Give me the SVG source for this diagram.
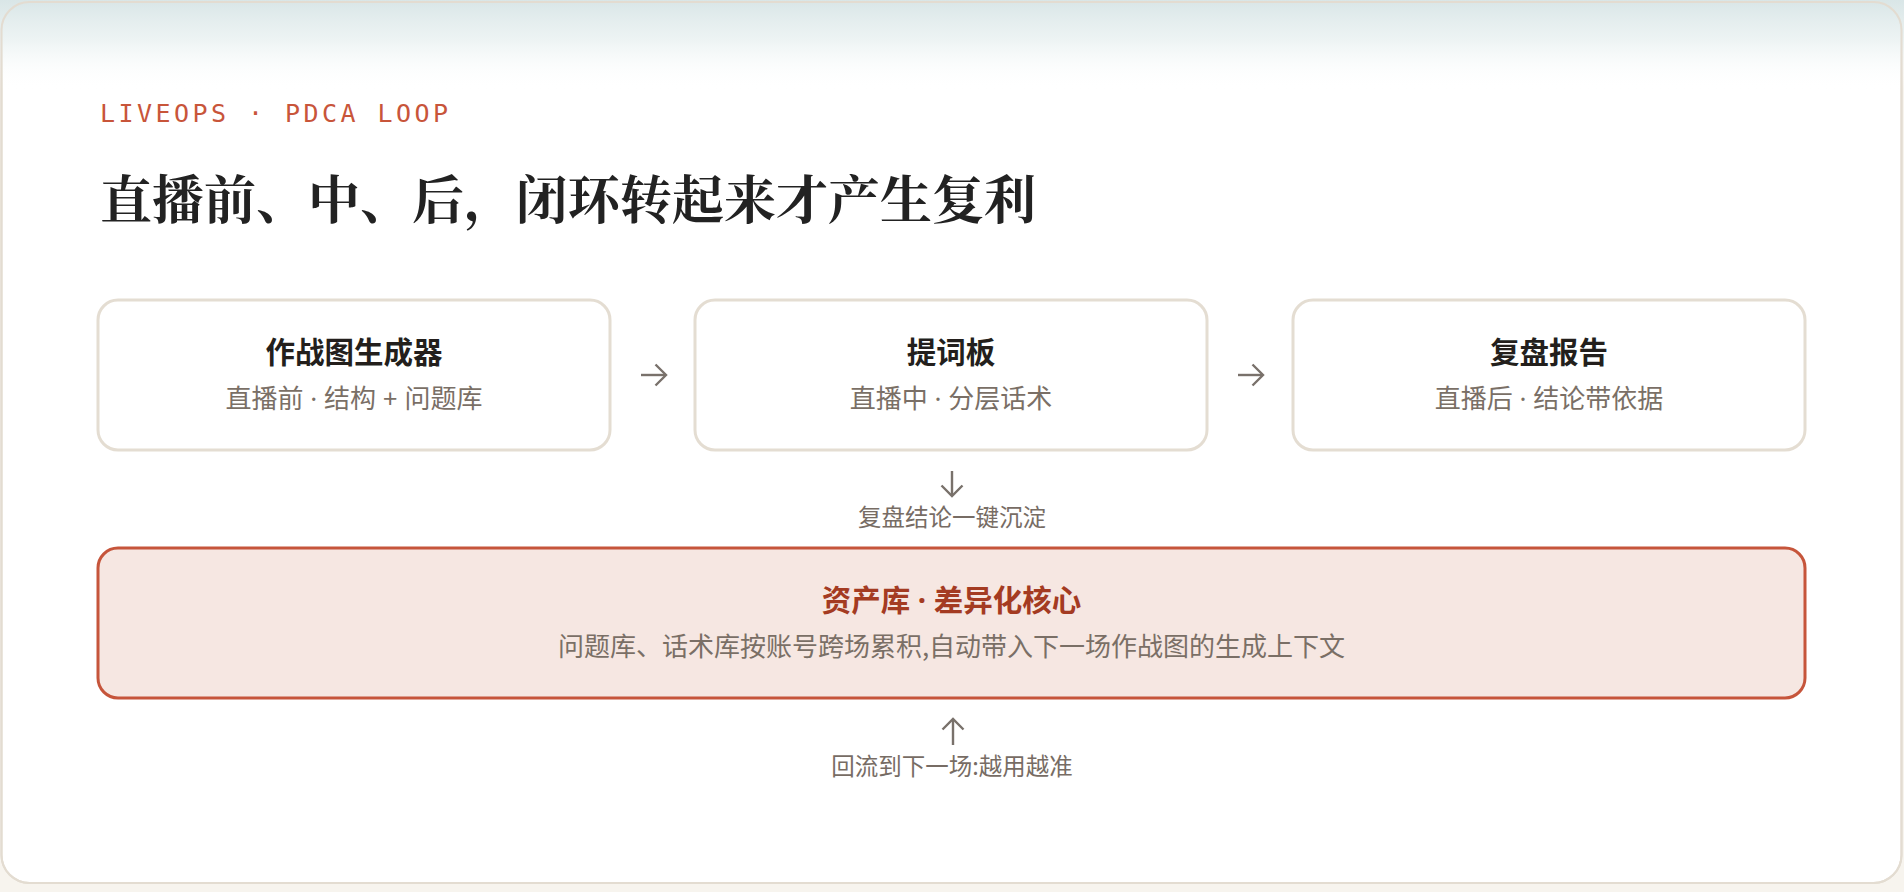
<svg xmlns="http://www.w3.org/2000/svg" width="1904" height="892" viewBox="0 0 1904 892">
  <defs>
    <linearGradient id="topfade" x1="0" y1="0" x2="0" y2="1">
      <stop offset="0" stop-color="#d9e6e7" stop-opacity="1"/>
      <stop offset="0.45" stop-color="#e9f1f1" stop-opacity="0.8"/>
      <stop offset="1" stop-color="#ffffff" stop-opacity="0"/>
    </linearGradient>
    <marker id="head" viewBox="0 0 24 24" refX="12" refY="12" markerWidth="24" markerHeight="24" markerUnits="userSpaceOnUse" orient="auto">
      <path d="M1.5 1.5 L12 12 L1.5 22.5" fill="none" stroke="#79716b" stroke-width="2.4" stroke-linejoin="miter"/>
    </marker>
  </defs>
  <style>
    .eyebrow { font-family: "DejaVu Sans Mono", "Liberation Mono", monospace; font-size: 25px; letter-spacing: 3.45px; fill: #c8553a; }
    .h1 { font-family: "Noto Serif CJK SC", "Noto Sans CJK SC", serif; font-size: 52px; font-weight: 700; fill: #222222; }
    .node rect { fill: #ffffff; stroke: #e4ddd2; stroke-width: 3; }
    .ntitle { font-family: "Noto Sans CJK SC", "Noto Sans", sans-serif; font-size: 29.5px; font-weight: 700; fill: #231f1c; text-anchor: middle; }
    .nsub { font-family: "Noto Sans CJK SC", "Noto Sans", sans-serif; font-size: 26px; fill: #7a6f66; text-anchor: middle; }
    .lat { font-family: "Noto Sans", "Liberation Sans", sans-serif; }
    .asset rect { fill: #f6e7e2; stroke: #c6553b; stroke-width: 3; }
    .atitle { fill: #a43b22; }
    .lbl { font-family: "Noto Sans CJK SC", "Noto Sans", sans-serif; font-size: 23.5px; fill: #776c64; text-anchor: middle; }
    .conn { stroke: #79716b; stroke-width: 2.4; fill: none; marker-end: url(#head); }
  </style>

  <rect x="0" y="0" width="1904" height="892" fill="#f7f4ee"/>
  <g id="card">
    <rect x="1.5" y="2" width="1900" height="881" rx="28" fill="#ffffff" stroke="#e3dcd1" stroke-width="2"/>
    <rect x="0" y="0" width="1904" height="90" fill="url(#topfade)"/>
    <rect x="1.5" y="2" width="1900" height="881" rx="28" fill="none" stroke="#e3dcd1" stroke-width="2"/>
  </g>

  <text class="eyebrow" x="100" y="122">LIVEOPS · PDCA LOOP</text>
  <text class="h1" x="100" y="219">直播前、中、后，闭环转起来才产生复利</text>

  <g id="node-plan" class="node">
    <rect x="98" y="300" width="512" height="150" rx="20"/>
    <text class="ntitle" x="354" y="363">作战图生成器</text>
    <text class="nsub" x="354" y="408">直播前<tspan class="lat"> · </tspan>结构<tspan class="lat"> + </tspan>问题库</text>
  </g>
  <g id="node-prompter" class="node">
    <rect x="695" y="300" width="512" height="150" rx="20"/>
    <text class="ntitle" x="951" y="363">提词板</text>
    <text class="nsub" x="951" y="408">直播中<tspan class="lat"> · </tspan>分层话术</text>
  </g>
  <g id="node-review" class="node">
    <rect x="1293" y="300" width="512" height="150" rx="20"/>
    <text class="ntitle" x="1549" y="363">复盘报告</text>
    <text class="nsub" x="1549" y="408">直播后<tspan class="lat"> · </tspan>结论带依据</text>
  </g>
  <g id="node-assets" class="asset">
    <rect x="98" y="548" width="1707" height="150" rx="20"/>
    <text class="ntitle atitle" x="951.5" y="611">资产库<tspan class="lat"> · </tspan>差异化核心</text>
    <text class="nsub" x="951.5" y="656">问题库、话术库按账号跨场累积,自动带入下一场作战图的生成上下文</text>
  </g>

  <g id="connectors">
    <line class="conn" x1="641" y1="375" x2="666" y2="375"/>
    <line class="conn" x1="1238" y1="375" x2="1263" y2="375"/>
    <line class="conn" x1="952" y1="471" x2="952" y2="496"/>
    <line class="conn" x1="953" y1="745" x2="953" y2="719"/>
    <text class="lbl" x="952" y="526">复盘结论一键沉淀</text>
    <text class="lbl" x="952" y="775">回流到下一场:越用越准</text>
  </g>
</svg>
